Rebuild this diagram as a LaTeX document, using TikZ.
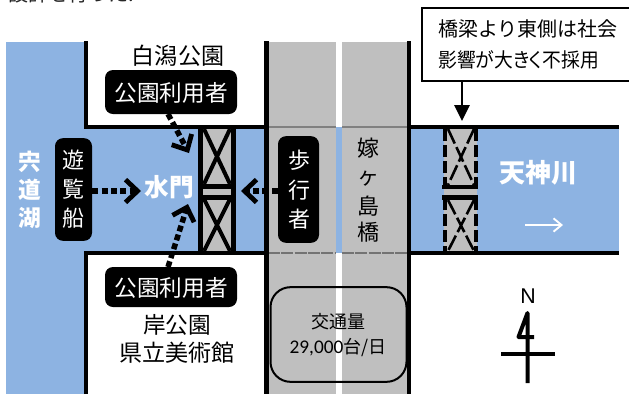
\documentclass[tikz,border=0pt]{standalone}
\usepackage{fontspec}
\usepackage{graphicx}
\setmainfont{Noto Sans CJK JP}
\newfontfamily\latinf{Carlito}
\usetikzlibrary{arrows.meta}
\definecolor{river}{HTML}{8DB3E2}
\definecolor{road}{HTML}{BFBFBF}
\newcommand{\fs}[1]{\fontsize{#1}{#1}\selectfont}
\tikzset{
  x=0.75pt,y=-0.75pt,
  px/.style={line width=#1*0.75pt},
  label/.style={inner sep=0pt,font=\fs{16.5}},
  whitelabel/.style={label,text=white},
  boldlabel/.style={inner sep=0pt,text=white,font=\fs{17}\bfseries},
  blackbox/.style={fill=black,rounded corners=6pt,draw=none},
  bank/.style={px=4.5,line cap=butt},
  walk/.style={px=5.5,dash pattern=on 4.5pt off 2.5pt,-{Straight Barb[length=9pt,width=17pt,line width=3.6pt]}},
  gatebar/.style={px=5},
  gatecross/.style={px=4},
  gatedash/.style={px=4.5,dash pattern=on 9pt off 3pt},
  gatecrossdash/.style={px=2.6,dash pattern=on 12pt off 3pt},
}
\begin{document}
\begin{tikzpicture}
\useasboundingbox (0,0) rectangle (629,394);
% water and roads
\fill[river] (6,42) rectangle (85,394);
\fill[river] (85,127) rectangle (619,253);
\fill[road] (268,42) rectangle (336,394);
\fill[road] (342,42) rectangle (408,394);
\draw[px=2,color=black!50] (268,127) -- (336,127) (342,127) -- (408,127);
\draw[px=2,color=black!55,dash pattern=on 9pt off 1pt] (268,253) -- (336,253) (342,253) -- (408,253);
% banks
\draw[bank] (86,41) -- (86,127) -- (266.5,127);
\draw[bank] (266.5,41) -- (266.5,394);
\draw[bank] (86,394) -- (86,253) -- (266.5,253);
\draw[bank] (409,41) -- (409,394);
\draw[bank] (409,127) -- (619,127);
\draw[bank] (409,253) -- (619,253);
% sluice gate
\fill[road] (200,129) rectangle (234,251);
\draw[gatebar] (200.5,129) -- (200.5,251) (233.5,129) -- (233.5,251);
\draw[gatebar] (203,186) -- (231,186) (203,197) -- (231,197);
\draw[gatecross] (204,129) -- (230,184) (230,129) -- (204,184);
\draw[gatecross] (204,199) -- (230,251) (230,199) -- (204,251);
% rejected gate
\fill[road] (444,129) rectangle (477,251);
\draw[gatedash] (445,129) -- (445,186) (476,129) -- (476,186);
\draw[gatedash] (445,198) -- (445,251) (476,198) -- (476,251);
\draw[px=4.5] (442,187) -- (478,187) (442,197.5) -- (478,197.5);
\draw[gatecrossdash] (448,129) -- (474,185) (474,129) -- (448,185);
\draw[gatecrossdash] (448,200) -- (474,251) (474,200) -- (448,251);
% labels
\node[label,font=\fs{17.3}] (shirakata) at (178,56) {白潟公園};
\node[blackbox,minimum width=99pt,minimum height=33pt,inner sep=0pt] (user1) at (171,92) {};
\node[whitelabel,font=\fs{17}] (user1t) at (171,93) {公園利用者};
\node[blackbox,minimum width=99pt,minimum height=30pt,inner sep=0pt] (user2) at (171,287) {};
\node[whitelabel,font=\fs{17}] (user2t) at (171,288) {公園利用者};
\node[label,font=\fs{17}] (kishi) at (177,325) {岸公園};
\node[label,font=\fs{17.3}] (museum) at (177,353) {県立美術館};
\node[blackbox,minimum width=27.75pt,minimum height=77pt,inner sep=0pt] (boat) at (73.5,189.5) {};
\node[whitelabel] at (73,160) {遊};
\node[whitelabel] at (73,189) {覧};
\node[whitelabel] at (73,218) {船};
\node[blackbox,minimum width=30.75pt,minimum height=80pt,inner sep=0pt] (walker) at (298.5,189.5) {};
\node[whitelabel] at (299,160) {歩};
\node[whitelabel] at (299,190) {行};
\node[whitelabel] at (299,219) {者};
\node[boldlabel] at (30,162) {宍};
\node[boldlabel] at (30,190) {道};
\node[boldlabel] at (30,218) {湖};
\node[boldlabel,font=\fs{18.5}\bfseries] (gate) at (169,187) {水門};
\node[label] at (368,148) {嫁};
\node[label] at (368,179) {ヶ};
\node[label] at (368,206) {島};
\node[label] at (368,232) {橋};
\node[boldlabel,font=\fs{19.5}\bfseries] (tenjin) at (538,173) {天神川};
\coordinate (flowa) at (525,225);
\coordinate (flowb) at (563,225);
\draw[px=2.6,white,-{Straight Barb[length=6pt,width=10pt,line width=1.4pt]}] (flowa) -- (flowb);
% traffic
\node[draw=black,px=2,rounded corners=15pt,minimum width=102pt,minimum height=71pt,inner sep=0pt] (traffic) at (338.5,334.5) {};
\node[label,font=\fs{13.5}] at (338,322) {交通量};
\node[label,font=\fs{13.5}] at (338,348) {{\latinf\fs{14.5}29,000}台/日};
% callout
\node[draw=black,px=2,minimum width=210pt,minimum height=54.5pt,inner sep=0pt,anchor=north west] (note) at (420.5,7) {};
\node[label,font=\fs{15},anchor=west] (note1) at (438,29) {橋梁より東側は社会};
\node[label,font=\fs{15},anchor=west] (note2) at (438,60) {\scalebox{0.94}[1]{\addfontfeature{RawFeature=+palt}影響が大きく不採用}};
\coordinate (notetarget) at (462,121);
\draw[px=1.6,-{Triangle[length=12pt,width=11.5pt]}] (note.south west -| notetarget) -- (notetarget);
% walking arrows
\coordinate (gateN) at (189,153);
\coordinate (gateS) at (188,204);
\coordinate (gateW) at (141,191);
\coordinate (gateE) at (241,191);
\draw[walk] (168,114) -- (gateN);
\draw[walk] (168,267) -- (gateS);
\draw[walk] (boat.east |- gateW) -- (gateW);
\draw[walk] (walker.west |- gateE) -- (gateE);
% compass
\node[inner sep=0pt,font=\fontspec{Liberation Sans}\fs{16}] (north) at (528,296) {N};
\draw[px=4,line join=round] (527.5,383) -- (527.5,313) -- (518.5,337) -- (534,337);
\draw[px=4] (501,354) -- (555,354);
% cut-off line of text above
\node[inner sep=0pt,anchor=west,font=\fs{15},color=black!85] (above) at (8,-6) {設計を行った.};
\end{tikzpicture}
\end{document}
